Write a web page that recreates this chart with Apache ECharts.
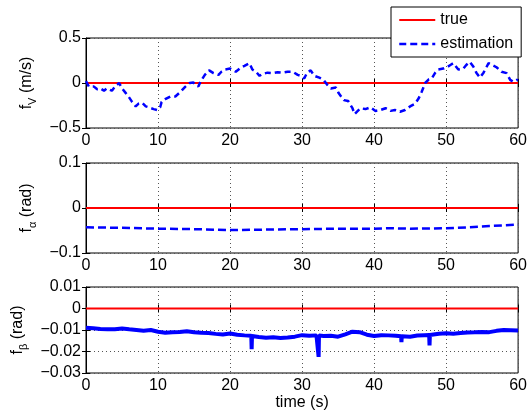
<!DOCTYPE html>
<html><head><meta charset="utf-8">
<script src="https://cdn.jsdelivr.net/npm/echarts@6/dist/echarts.min.js"></script>
<style>html,body{margin:0;padding:0;background:#fff}#c{width:530px;height:412px}</style>
</head><body><div id="c"></div>
<script>
// ---- data ----
var timeTicks = [0, 10, 20, 30, 40, 50, 60];
var trueT = [0, 60];
var trueV = [0, 0];

var tV = [0,0.1,0.4,1.1,1.56,2.0,2.5,2.9,3.6,4.1,4.6,5.0,5.5,5.9,6.4,6.9,7.3,7.8,8.3,8.7,9.4,9.9,10.3,10.5,11.0,11.7,12.4,13.1,13.8,14.4,14.9,15.6,15.9,16.5,17.1,17.7,18.4,18.8,19.3,20.0,20.8,21.5,22.0,22.7,23.1,23.6,24.1,24.5,25.2,25.9,26.6,27.3,28.0,28.7,29.4,29.8,30.3,30.7,31.2,31.7,32.4,33.0,33.5,34.0,34.7,35.1,35.8,36.4,37.0,37.3,37.6,38.1,38.8,39.5,40.2,40.9,41.6,42.3,42.9,43.6,44.3,45.0,45.7,46.2,46.6,47.1,47.6,48.0,48.5,48.9,49.6,50.1,50.6,51.0,51.7,52.4,52.8,53.3,53.8,54.2,54.7,55.2,55.9,56.4,57.0,57.7,58.4,58.9,59.3,59.8,60.0];
var fV = [0.02,0.026,-0.04,-0.04,-0.07,-0.06,-0.085,-0.06,-0.085,-0.033,0.0,-0.06,-0.11,-0.15,-0.21,-0.26,-0.23,-0.22,-0.26,-0.27,-0.29,-0.30,-0.27,-0.21,-0.18,-0.15,-0.15,-0.10,-0.04,0.0,0.005,-0.04,0.015,0.09,0.14,0.11,0.09,0.125,0.15,0.16,0.125,0.17,0.19,0.22,0.15,0.125,0.08,0.10,0.115,0.11,0.12,0.115,0.125,0.125,0.09,0.08,0.05,0.115,0.14,0.08,0.06,0.033,-0.02,-0.06,-0.05,-0.115,-0.19,-0.20,-0.28,-0.345,-0.32,-0.28,-0.29,-0.27,-0.31,-0.30,-0.28,-0.31,-0.30,-0.32,-0.30,-0.26,-0.23,-0.17,-0.10,0.0,0.04,0.05,0.115,0.15,0.16,0.175,0.20,0.22,0.15,0.16,0.20,0.235,0.18,0.115,0.06,0.115,0.22,0.20,0.175,0.125,0.11,0.035,0.015,0.035,0.03];

var tA = [0,5,10,15,20,25,30,35,40,42,45,50,53,56,60];
var fA = [-0.043,-0.044,-0.046,-0.047,-0.049,-0.048,-0.047,-0.046,-0.046,-0.045,-0.046,-0.045,-0.043,-0.040,-0.037];

var tB = [0,1,2,3,4,5,6,7,8,9,10,11,12,13,14,15,16,17,18,19,20,21,22,22.95,23.0,23.05,24,25,26,27,28,29,30,31,32,32.25,32.3,32.35,33,34,35,36,37,38,39,40,41,42,43,43.75,43.8,43.85,44,45,46,47,47.65,47.7,47.75,48,49,50,51,52,53,54,55,56,57,58,59,60];
var fB = [-0.0090,-0.0092,-0.0095,-0.0097,-0.0096,-0.0093,-0.0097,-0.0100,-0.0103,-0.0100,-0.0108,-0.0113,-0.0110,-0.0109,-0.0106,-0.0110,-0.0113,-0.0114,-0.0118,-0.0121,-0.0116,-0.0122,-0.0125,-0.0127,-0.0189,-0.0128,-0.0133,-0.0136,-0.0134,-0.0137,-0.0135,-0.0131,-0.0124,-0.0127,-0.0125,-0.0126,-0.0225,-0.0126,-0.0128,-0.0127,-0.0131,-0.0120,-0.0108,-0.0110,-0.0122,-0.0128,-0.0124,-0.0125,-0.0127,-0.0129,-0.0156,-0.0129,-0.0130,-0.0131,-0.0126,-0.0124,-0.0123,-0.0172,-0.0123,-0.0121,-0.0117,-0.0115,-0.0117,-0.0114,-0.0112,-0.0111,-0.0109,-0.0110,-0.0104,-0.0100,-0.0101,-0.0102];

var yRanges = [[-0.5, 0.5, 0.5], [-0.1, 0.1, 0.1], [-0.03, 0.01, 0.01]];
var yNames = ['{a|f}{s|V}{a| (m/s)}', '{a|f}{s|α}{a| (rad)}', '{a|f}{s|β}{a| (rad)}'];

// ---- chart ----
function pairs(t, v) { return t.map(function (x, i) { return [x, v[i]]; }); }
function fmt(v) { var s = String(parseFloat(v.toFixed(4))); return s.replace('-', '\u2212'); }

var FONT = 'Liberation Sans, Arial, Helvetica, sans-serif';
var tops = [38, 163, 287];
var grids = [], xAxes = [], yAxes = [], series = [];
var nameGaps = [40, 40, 48];
for (var g = 0; g < 3; g++) {
  grids.push({left: 86, right: 10, top: tops[g], height: 90, show: true, borderColor: '#000', borderWidth: 1, backgroundColor: 'transparent'});
  xAxes.push({
    type: 'value', gridIndex: g, min: 0, max: 60, interval: 10,
    axisLine: {show: true, lineStyle: {color: '#000', width: 1}},
    axisTick: {show: true, inside: true, length: 4, lineStyle: {color: '#000'}},
    axisLabel: {color: '#000', fontSize: 16, fontFamily: FONT, margin: 5},
    splitLine: {show: true, lineStyle: {color: '#555', type: [1, 3], width: 1}},
    name: g === 2 ? 'time (s)' : '', nameLocation: 'middle', nameGap: 22,
    nameTextStyle: {color: '#000', fontSize: 16, fontFamily: FONT}
  });
  xAxes.push({
    type: 'value', gridIndex: g, min: 0, max: 60, interval: 10, position: 'top',
    axisLine: {show: false}, axisTick: {show: true, inside: true, length: 4, lineStyle: {color: '#000'}},
    axisLabel: {show: false}, splitLine: {show: false}
  });
  var r = yRanges[g];
  yAxes.push({
    type: 'value', gridIndex: g, min: r[0], max: r[1], interval: r[2],
    axisLine: {show: true, lineStyle: {color: '#000', width: 1}},
    axisTick: {show: true, inside: true, length: 4, lineStyle: {color: '#000'}},
    axisLabel: {color: '#000', fontSize: 16, fontFamily: FONT, margin: 5, formatter: fmt},
    splitLine: {show: true, lineStyle: {color: '#555', type: [1, 3], width: 1}},
    name: yNames[g], nameLocation: 'middle', nameRotate: 90, nameGap: nameGaps[g],
    nameTextStyle: {
      color: '#000', fontFamily: FONT,
      rich: {
        a: {fontSize: 16, fontFamily: FONT, color: '#000', lineHeight: 20, verticalAlign: 'top'},
        s: {fontSize: 11, fontFamily: FONT, color: '#000', lineHeight: 12, verticalAlign: 'bottom'}
      }
    }
  });
  yAxes.push({
    type: 'value', gridIndex: g, min: r[0], max: r[1], interval: r[2], position: 'right',
    axisLine: {show: false}, axisTick: {show: true, inside: true, length: 4, lineStyle: {color: '#000'}},
    axisLabel: {show: false}, splitLine: {show: false}
  });
  series.push({
    name: 'true', type: 'line', xAxisIndex: 2 * g, yAxisIndex: 2 * g,
    data: pairs(trueT, trueV), showSymbol: false, symbol: 'none', animation: false,
    lineStyle: {color: '#ff0000', width: 2}, itemStyle: {color: '#ff0000'}, z: 3
  });
}
series.push({
  name: 'estimation', type: 'line', xAxisIndex: 0, yAxisIndex: 0, data: pairs(tV, fV),
  showSymbol: false, symbol: 'none', animation: false,
  lineStyle: {color: '#0000ff', width: 2.5, type: [6, 4]}, itemStyle: {color: '#0000ff'}, z: 4
});
series.push({
  name: 'estimation', type: 'line', xAxisIndex: 2, yAxisIndex: 2, data: pairs(tA, fA),
  showSymbol: false, symbol: 'none', animation: false,
  lineStyle: {color: '#0000ff', width: 2.5, type: [8, 4]}, itemStyle: {color: '#0000ff'}, z: 4
});
series.push({
  name: 'estimation', type: 'line', xAxisIndex: 4, yAxisIndex: 4, data: pairs(tB, fB),
  showSymbol: false, symbol: 'none', animation: false,
  lineStyle: {color: '#0000ff', width: 4}, itemStyle: {color: '#0000ff'}, z: 4
});

var chart = echarts.init(document.getElementById('c'), null, {renderer: 'canvas'});
chart.setOption({
  backgroundColor: '#fff',
  animation: false,
  grid: grids, xAxis: xAxes, yAxis: yAxes, series: series,
  legend: {
    data: [
      {name: 'true', itemStyle: {opacity: 0}, lineStyle: {color: '#ff0000', width: 2}},
      {name: 'estimation', itemStyle: {opacity: 0}, lineStyle: {type: [7, 4], width: 2.5, color: '#0000ff'}}
    ],
    orient: 'vertical', left: 391, top: 7, padding: [5, 8, 5, 7],
    itemWidth: 36, itemHeight: 14, itemGap: 8,
    borderColor: '#000', borderWidth: 1, backgroundColor: '#fff',
    textStyle: {color: '#000', fontSize: 16, fontFamily: FONT},
    selectedMode: false
  }
});
</script></body></html>
